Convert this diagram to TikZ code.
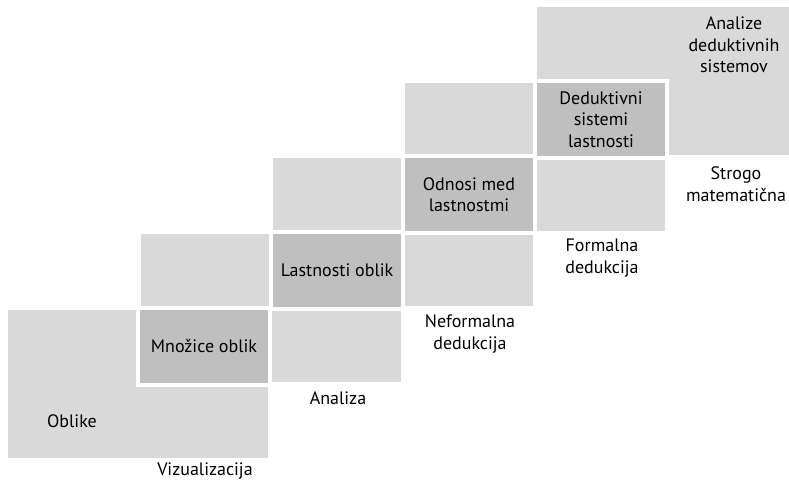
\documentclass[tikz,border=0pt]{standalone}
\usepackage{fontspec}
\setmainfont{PT Sans}
\usetikzlibrary{positioning}
\definecolor{levelgrey}{HTML}{D9D9D9}
\definecolor{cellgrey}{HTML}{BFBFBF}

\begin{document}
\begin{tikzpicture}[x=1pt, y=1pt,
	font=\fontsize{18}{21.5}\selectfont,
	level/.style={fill=levelgrey, anchor=north west, inner sep=0pt, minimum width=260pt, minimum height=148pt},
	cell/.style={fill=cellgrey, draw=white, line width=4pt, inner sep=0pt, minimum width=132pt, minimum height=77pt, align=center},
	stage/.style={align=center, inner sep=0pt}]
	\useasboundingbox (0,0) rectangle (789,482);
	% levels, top one first
	\node[level, minimum width=252pt] (lvl4) at (537,475) {};
	\node[level] (lvl3) at (405,399) {};
	\node[cell] (cell3) at (601,362.5) {Deduktivni\\sistemi\\lastnosti};
	\node[level] (lvl2) at (273,324) {};
	\node[cell] (cell2) at (469,287.5) {Odnosi med\\lastnostmi};
	\node[level] (lvl1) at (141,248) {};
	\node[cell] (cell1) at (337,211.5) {Lastnosti oblik};
	\node[level] (lvl0) at (8,172) {};
	\node[cell] (cell0) at (204,135.5) {Množice oblik};
	\node[stage] (oblike) at (72,61) {Oblike};
	\node[stage] (analize) at (734,437) {Analize\\deduktivnih\\sistemov};
	% stage names
	\node[stage] (viz) at (205,11) {Vizualizacija};
	\node[stage] (ana) at (338,84) {Analiza};
	\node[stage] (nef) at (470,148) {Neformalna\\dedukcija};
	\node[stage] (form) at (602,224) {Formalna\\dedukcija};
	\node[stage] (strogo) at (736,298) {Strogo\\matematična};
\end{tikzpicture}
\end{document}
